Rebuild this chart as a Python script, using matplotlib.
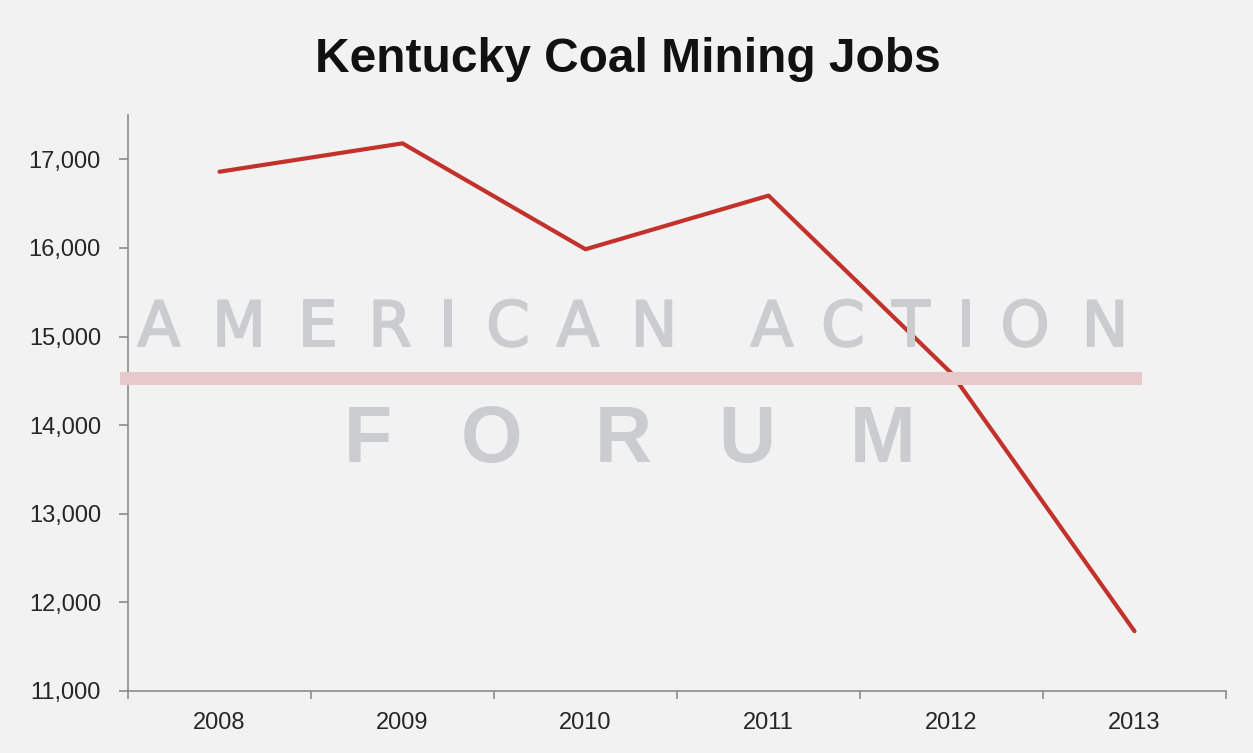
import matplotlib
matplotlib.use("Agg")
import matplotlib.pyplot as plt
import matplotlib.patheffects as pe
from matplotlib.ticker import FuncFormatter, FixedLocator

years = ["2008", "2009", "2010", "2011", "2012", "2013"]
jobs = [16860, 17180, 15985, 16590, 14585, 11675]
yticks = [11000, 12000, 13000, 14000, 15000, 16000, 17000]

plt.rcParams['font.family'] = ['Liberation Sans', 'DejaVu Sans']

W, H = 1253, 753
fig = plt.figure(figsize=(W/100, H/100), dpi=100, facecolor='#f2f2f2')
ax = fig.add_axes([128/W, 1-691/H, (1226-128)/W, (691-115)/H])
ax.set_facecolor('#f2f2f2')

# watermark (letter centres in pixels)
wm_color = '#cbccd0'
top_letters = "AMERICANACTION"
top_centres = [159, 239, 318, 390, 448, 508, 578, 654, 772, 843, 911, 966, 1025, 1105]
for ch, cx in zip(top_letters, top_centres):
    fig.text(cx/W, 1-346/H, ch, ha='center', va='baseline', fontsize=45,
             family='DejaVu Sans', color=wm_color, zorder=0,
             path_effects=[pe.withStroke(linewidth=1.4, foreground=wm_color)])
fig.patches.append(plt.Rectangle((120/W, 1-385/H), (1142-120)/W, 13/H,
                                 transform=fig.transFigure, facecolor='#e8c9c9',
                                 edgecolor='none', zorder=0))
bottom_letters = "FORUM"
bottom_centres = [368, 492, 623, 747, 883]
for ch, cx in zip(bottom_letters, bottom_centres):
    fig.text(cx/W, 1-462/H, ch, ha='center', va='baseline', fontsize=57,
             fontweight='bold', color=wm_color, zorder=0)

x = list(range(len(years)))
ax.plot(x, jobs, color='#c3312b', linewidth=3.0, solid_capstyle='round', zorder=3)

ax.set_xlim(-0.5, len(years) - 0.5)
ax.set_ylim(11000, 17500)
ax.set_yticks(yticks)
ax.yaxis.set_major_formatter(FuncFormatter(lambda v, p: f"{int(v):,}"))
ax.set_xticks(x)
ax.set_xticklabels(years)
ax.xaxis.set_minor_locator(FixedLocator([i - 0.5 for i in range(len(years) + 1)]))
ax.tick_params(axis='x', which='major', length=0, pad=15, labelsize=17, labelcolor='#262626')
ax.tick_params(axis='x', which='minor', length=6, width=1.2, color='#8c8c8c', direction='out')
ax.tick_params(axis='y', length=6.5, width=1.2, color='#8c8c8c', pad=13, labelsize=17, labelcolor='#262626')
for s in ['top', 'right']:
    ax.spines[s].set_visible(False)
for s in ['left', 'bottom']:
    ax.spines[s].set_color('#8c8c8c')
    ax.spines[s].set_linewidth(1.2)

fig.text(628/W, 1-72/H, "Kentucky Coal Mining Jobs", ha='center', va='baseline',
         fontsize=34.5, fontweight='bold', color='#111111')

fig.savefig("out.png", dpi=100, facecolor=fig.get_facecolor())
